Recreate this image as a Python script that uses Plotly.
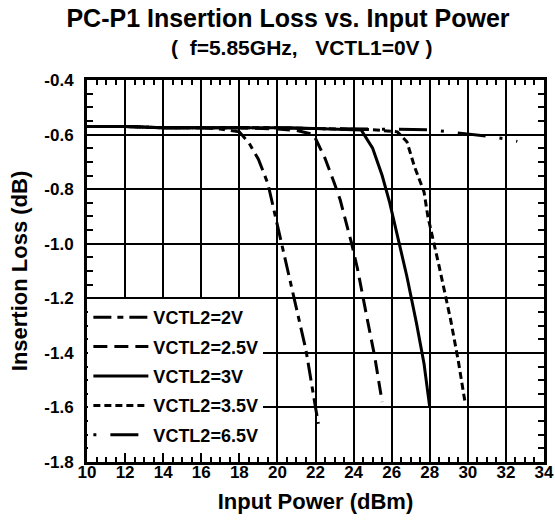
import plotly.graph_objects as go

# ---- data ----
names = ["VCTL2=2V", "VCTL2=2.5V", "VCTL2=3V", "VCTL2=3.5V", "VCTL2=6.5V"]

x_2v = [10, 12, 14, 16, 17, 18, 18.5, 19, 19.5, 20, 20.5, 21, 21.5, 22, 22.15]
y_2v = [-0.57, -0.57, -0.575, -0.575, -0.58, -0.59, -0.63, -0.69, -0.78, -0.93, -1.08, -1.23, -1.39, -1.60, -1.66]

x_25v = [10, 12, 14, 16, 18, 20, 21, 21.9, 22.5, 23.0, 23.3, 23.9, 24.2, 24.7, 25.1, 25.5]
y_25v = [-0.57, -0.57, -0.575, -0.575, -0.575, -0.58, -0.585, -0.60, -0.687, -0.78, -0.84, -1.00, -1.09, -1.27, -1.41, -1.58]

x_3v = [10, 12, 14, 16, 18, 20, 22, 24, 24.4, 25.0, 25.5, 25.9, 26.4, 26.8, 27.3, 27.7, 28.0]
y_3v = [-0.57, -0.57, -0.575, -0.575, -0.575, -0.575, -0.578, -0.58, -0.583, -0.65, -0.75, -0.85, -1.00, -1.12, -1.29, -1.44, -1.60]

x_35v = [10, 12, 14, 16, 18, 20, 22, 24, 25, 26.3, 26.8, 27.2, 27.7, 27.9, 28.2, 28.5, 29.1, 29.5, 29.85]
y_35v = [-0.57, -0.57, -0.575, -0.575, -0.575, -0.575, -0.578, -0.58, -0.582, -0.59, -0.626, -0.718, -0.81, -0.90, -0.99, -1.085, -1.28, -1.43, -1.58]

x_65v = [10, 12, 14, 16, 18, 20, 22, 24, 26, 28, 29, 30, 31, 32, 32.6]
y_65v = [-0.57, -0.57, -0.575, -0.575, -0.575, -0.575, -0.578, -0.58, -0.58, -0.582, -0.59, -0.597, -0.606, -0.616, -0.625]

xs = [x_2v, x_25v, x_3v, x_35v, x_65v]
ys = [y_2v, y_25v, y_3v, y_35v, y_65v]
dashes = ["18px,6px,6px,6px", "14px,7px", "solid", "7px,4px", "3px,14px,28px,14px"]

x_range = [10, 34]
y_range = [-1.8, -0.4]
y_ticks = [-1.8, -1.6, -1.4, -1.2, -1.0, -0.8, -0.6, -0.4]
y_tick_labels = ["-1.8", "-1.6", "-1.4", "-1.2", "-1.0", "-0.8", "-0.6", "-0.4"]

FONT = "Arial, Liberation Sans, sans-serif"

W, H = 555, 522
L, R, T, B = 87, 11, 80, 60
PW, PH = W - L - R, H - T - B

fig = go.Figure()
for i, (n, x, y, d) in enumerate(zip(names, xs, ys, dashes)):
    fig.add_trace(go.Scatter(x=x, y=y, mode="lines", name=n, legendgroup=f"g{i}",
                             line=dict(color="black", width=3, dash=d)))

axis_common = dict(
    showline=True, linecolor="black", linewidth=3, mirror="allticks",
    showgrid=True, gridcolor="black", gridwidth=2,
    ticks="inside", ticklen=6, tickwidth=2, tickcolor="black",
    zeroline=False, automargin=False,
    tickfont=dict(family=FONT, size=17, color="black", weight="bold"),
)

fig.update_xaxes(range=x_range, tickmode="linear", tick0=10, dtick=2,
                 minor=dict(tickmode="linear", tick0=10, dtick=0.5, ticks="inside", ticklen=5, tickwidth=2,
                            tickcolor="black", showgrid=False),
                 title=dict(text="Input Power (dBm)", font=dict(family=FONT, size=22, color="black", weight="bold"), standoff=13),
                 ticklabelstandoff=-7,
                 **axis_common)
fig.update_yaxes(range=y_range, tickmode="array", tickvals=y_ticks, ticktext=y_tick_labels,
                 minor=dict(tickmode="linear", tick0=-1.8, dtick=0.05, ticks="inside", ticklen=6, tickwidth=2,
                            tickcolor="black", showgrid=False),
                 title=dict(text="Insertion Loss (dB)", font=dict(family=FONT, size=22, color="black", weight="bold"), standoff=11),
                 ticklabelstandoff=7,
                 **axis_common)

fig.update_layout(
    width=W, height=H,
    margin=dict(l=L, r=R, t=T, b=B),
    paper_bgcolor="white", plot_bgcolor="white",
    title=dict(text="PC-P1 Insertion Loss vs. Input Power", x=288 / W, xref="container", xanchor="center",
               y=1 - 18 / H, yref="container", yanchor="middle",
               font=dict(family=FONT, size=25, color="black", weight="bold")),
    annotations=[dict(text="(  f=5.85GHz,   VCTL1=0V )", xref="paper", yref="paper",
                      x=(301 - L) / PW, y=1 + (T - 48) / PH, xanchor="center", yanchor="middle",
                      showarrow=False, font=dict(family=FONT, size=21, color="black", weight="bold"))],
    legend=dict(x=0.003, y=(H - B - 299) / PH, xanchor="left", yanchor="top", bgcolor="white", borderwidth=0,
                font=dict(family=FONT, size=18, color="black", weight="bold"),
                traceorder="grouped", tracegroupgap=3, itemwidth=55),
    showlegend=True,
)

fig.write_html("out.html", config={"displayModeBar": False},
               post_script="document.body.style.margin='0px';document.body.style.overflow='hidden';")
